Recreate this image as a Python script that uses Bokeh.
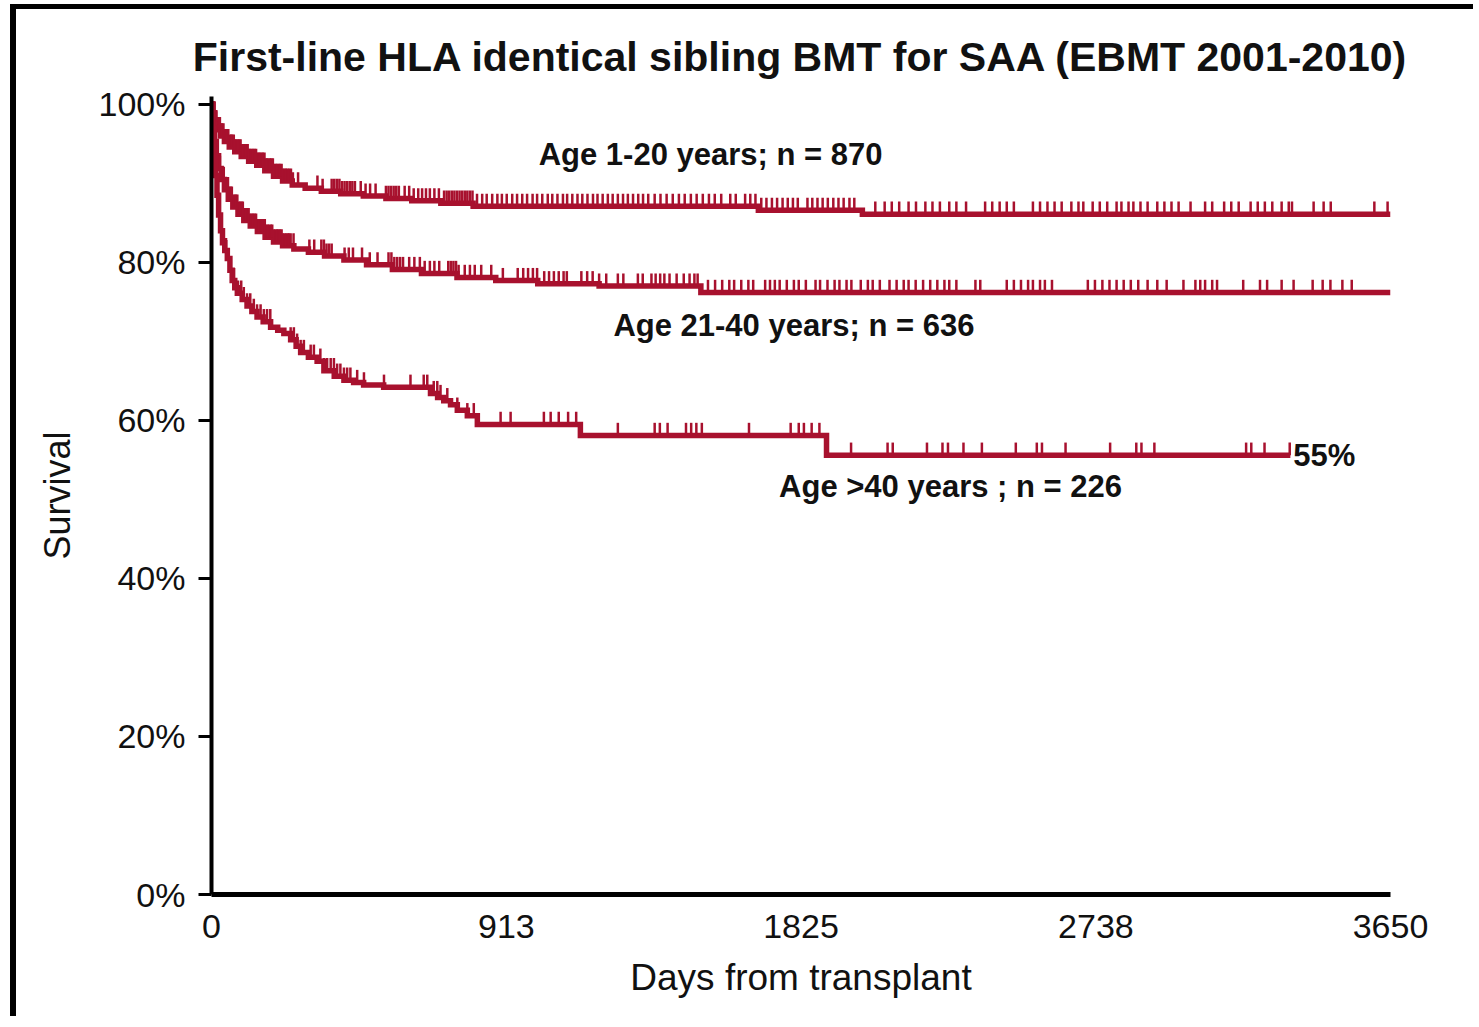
import numpy as np
from bokeh.plotting import figure
from bokeh.models import Range1d, FixedTicker, Label
from bokeh.embed import file_html
from bokeh.resources import INLINE

TITLE = "First-line HLA identical sibling BMT for SAA (EBMT 2001-2010)"
X_LABEL = "Days from transplant"
Y_LABEL = "Survival"
x_ticks = [0, 913, 1825, 2738, 3650]
x_tick_labels = ["0", "913", "1825", "2738", "3650"]
y_ticks = [0, 20, 40, 60, 80, 100]
y_tick_labels = ["0%", "20%", "40%", "60%", "80%", "100%"]

groups = ["Age 1-20 years; n = 870", "Age 21-40 years; n = 636", "Age >40 years ; n = 226"]
end_labels = ["86%", "76%", "55%"]

# Age 1-20: step times (days) and survival (%)
t1 = [0, 4, 10, 18, 28, 40, 55, 72, 92, 115, 140, 165, 192, 220, 250, 290, 340, 400,
      470, 540, 620, 710, 810, 1693, 2015]
s1 = [100, 98.8, 97.7, 96.8, 96.0, 95.3, 94.6, 94.0, 93.4, 92.8, 92.3, 91.6, 90.9, 90.3,
      89.8, 89.4, 89.0, 88.7, 88.4, 88.1, 87.8, 87.5, 87.1, 86.6, 86.1]
end1 = 3650
c1 = [6, 9, 12, 15, 18, 22, 26, 30, 33, 37, 41, 45, 48, 52, 57, 61, 64, 69, 73, 77, 81,
      86, 90, 94, 98, 103, 107, 112, 116, 120, 124, 129, 133, 138, 142, 146, 150, 155, 159,
      164, 168, 172, 176, 181, 185, 190, 194, 199, 203, 208, 212, 217, 221, 226, 230, 235,
      240, 246, 252, 268, 328, 344, 372, 380, 388, 396, 404, 412, 420, 428, 436, 444, 462,
      477, 491, 508, 540, 548, 556, 564, 572, 580, 598, 612, 626, 640, 652, 664, 676, 690,
      704, 720, 728, 736, 744, 752, 760, 768, 776, 784, 792, 800, 808, 822, 838, 852, 869,
      885, 899, 914, 931, 946, 962, 977, 994, 1008, 1024, 1041, 1055, 1071, 1088, 1101,
      1117, 1133, 1148, 1164, 1181, 1195, 1211, 1227, 1242, 1258, 1274, 1289, 1305, 1321,
      1336, 1352, 1372, 1390, 1409, 1428, 1447, 1465, 1484, 1502, 1521, 1540, 1558, 1578,
      1606, 1623, 1652, 1668, 1684, 1702, 1718, 1735, 1751, 1768, 1784, 1800, 1815, 1845,
      1860, 1876, 1892, 1908, 1925, 1941, 1957, 1975, 1990, 2055, 2084, 2106, 2129, 2158,
      2181, 2210, 2232, 2255, 2284, 2306, 2336, 2395, 2417, 2440, 2462, 2484, 2543, 2565,
      2588, 2610, 2632, 2662, 2684, 2699, 2728, 2750, 2773, 2802, 2817, 2839, 2854, 2876,
      2898, 2928, 2950, 2972, 2994, 3031, 3076, 3098, 3135, 3157, 3180, 3217, 3239, 3261,
      3284, 3313, 3335, 3345, 3412, 3443, 3465, 3600, 3641]

# Age 21-40
t2 = [0, 4, 9, 15, 22, 30, 40, 52, 66, 82, 100, 120, 142, 166, 192, 220, 255, 300, 350,
      410, 480, 560, 650, 760, 880, 1010, 1200, 1515]
s2 = [100, 97.5, 95.3, 93.5, 91.9, 90.5, 89.2, 88.0, 87.0, 86.1, 85.3, 84.6, 83.9, 83.2,
      82.6, 82.1, 81.7, 81.3, 80.8, 80.3, 79.7, 79.1, 78.6, 78.1, 77.7, 77.3, 77.0, 76.2]
end2 = 3650
c2 = [6, 10, 14, 18, 22, 26, 30, 34, 38, 42, 46, 51, 55, 59, 63, 68, 72, 76, 80, 85, 89,
      93, 97, 102, 106, 111, 115, 120, 124, 129, 133, 138, 142, 147, 151, 156, 160, 165,
      170, 174, 179, 184, 188, 193, 198, 203, 207, 212, 217, 221, 226, 231, 236, 240, 245,
      254, 303, 318, 340, 348, 356, 364, 372, 412, 425, 438, 466, 490, 514, 548, 557, 566,
      575, 584, 593, 612, 628, 645, 660, 676, 690, 705, 733, 741, 749, 757, 765, 784, 800,
      815, 835, 866, 902, 948, 965, 980, 995, 1008, 1030, 1045, 1060, 1075, 1090, 1100,
      1145, 1163, 1180, 1200, 1222, 1258, 1275, 1320, 1335, 1362, 1375, 1389, 1402, 1418,
      1440, 1462, 1480, 1495, 1505, 1537, 1559, 1581, 1603, 1618, 1640, 1662, 1677, 1714,
      1729, 1744, 1759, 1781, 1803, 1818, 1840, 1870, 1884, 1907, 1929, 1944, 1966, 1981,
      2010, 2032, 2047, 2069, 2099, 2121, 2143, 2158, 2180, 2203, 2225, 2247, 2269, 2284,
      2306, 2365, 2380, 2462, 2484, 2506, 2528, 2543, 2565, 2580, 2602, 2713, 2735, 2758,
      2780, 2802, 2824, 2846, 2869, 2898, 2928, 2957, 3009, 3046, 3061, 3076, 3098, 3113,
      3194, 3246, 3268, 3313, 3350, 3409, 3440, 3464, 3501, 3530]

# Age >40
t3 = [0, 3, 7, 12, 17, 22, 28, 34, 41, 49, 57, 64, 72, 80, 95, 110, 125, 141, 160, 183,
      205, 224, 245, 262, 276, 300, 327, 348, 380, 410, 440, 471, 533, 678, 700, 719, 740,
      761, 792, 823, 1142, 1904]
s3 = [100, 97, 94, 91, 88.5, 86, 84, 82.5, 81.5, 80.5, 79, 77.7, 76.8, 76.1, 75.3, 74.5,
      73.8, 73.1, 72.5, 71.8, 71.4, 71.0, 70.2, 69.4, 68.6, 68.0, 67.5, 66.3, 65.6, 65.1,
      64.8, 64.5, 64.2, 63.4, 62.9, 62.5, 62.0, 61.3, 60.6, 59.5, 58.1, 55.6]
end3 = 3340
c3 = [45, 58, 70, 82, 92, 100, 110, 120, 131, 141, 152, 162, 172, 182, 245, 255, 265, 276,
      286, 307, 317, 337, 348, 358, 369, 379, 389, 399, 410, 420, 430, 451, 472, 534, 616,
      657, 668, 688, 699, 709, 730, 761, 792, 812, 895, 926, 1029, 1050, 1075, 1104, 1129,
      1258, 1372, 1388, 1412, 1469, 1485, 1501, 1518, 1664, 1793, 1818, 1834, 1858, 1882,
      1980, 2093, 2109, 2215, 2263, 2280, 2328, 2385, 2490, 2555, 2571, 2644, 2782, 2863,
      2879, 2919, 3203, 3219, 3260, 3338]

RED = "#A8112E"
INK = "#111111"
FONT = "Liberation Sans"
TICK = 1.6

p = figure(width=1463, height=1012, output_backend="svg", toolbar_location=None,
           x_range=Range1d(0, 3650), y_range=Range1d(0, 101),
           min_border_left=195, min_border_right=89, min_border_top=87, min_border_bottom=127)
p.styles = {"border-top": "5px solid black", "border-left": "6px solid black",
            "margin-left": "10px", "margin-top": "4px"}
p.outline_line_color = None
p.grid.grid_line_color = None
p.background_fill_color = "white"
p.border_fill_color = "white"

p.title.text = TITLE
p.title.align = "center"
p.title.text_font = FONT
p.title.text_font_size = "41px"
p.title.text_font_style = "bold"
p.title.text_color = INK
p.title.standoff = 34

# axes
p.xaxis.ticker = FixedTicker(ticks=x_ticks)
p.xaxis.major_label_overrides = {v: l for v, l in zip(x_ticks, x_tick_labels)}
p.yaxis.ticker = FixedTicker(ticks=y_ticks)
p.yaxis.major_label_overrides = {v: l for v, l in zip(y_ticks, y_tick_labels)}
for ax in (p.xaxis, p.yaxis):
    ax.axis_line_color = "black"
    ax.major_label_text_font = FONT
    ax.major_label_text_font_size = "34px"
    ax.major_label_text_color = INK
    ax.minor_tick_line_color = None
    ax.axis_label_text_font = FONT
    ax.axis_label_text_font_style = "normal"
    ax.axis_label_text_color = INK
p.xaxis.axis_line_width = 5
p.yaxis.axis_line_width = 4
p.xaxis.major_tick_line_color = None
p.xaxis.major_tick_out = 0
p.xaxis.major_tick_in = 0
p.xaxis.major_label_standoff = 20
p.xaxis.axis_label = X_LABEL
p.xaxis.axis_label_text_font_size = "37px"
p.xaxis.axis_label_standoff = 16
p.yaxis.major_tick_line_color = "black"
p.yaxis.major_tick_line_width = 3
p.yaxis.major_tick_out = 13
p.yaxis.major_tick_in = 0
p.yaxis.major_label_standoff = 13
p.yaxis.axis_label = Y_LABEL
p.yaxis.axis_label_text_font_size = "36px"
p.yaxis.axis_label_standoff = 18


def surv_at(times, surv, c):
    idx = np.searchsorted(np.asarray(times), np.asarray(c), side="right") - 1
    return np.asarray(surv)[idx]


curves = [(t1, s1, end1, c1), (t2, s2, end2, c2), (t3, s3, end3, c3)]
for t, s, end, c in curves:
    xs = list(t) + [end]
    ys = list(s) + [s[-1]]
    p.step(xs, ys, mode="after", line_width=5.5, line_color=RED, line_join="miter")
    cy = surv_at(t, s, c)
    p.segment(x0=c, y0=cy, x1=c, y1=cy + TICK, line_width=2.5, line_color=RED)

# group labels
group_pos = [(1545, 93.6), (1803, 72.0), (2288, 51.6)]
for txt, (gx, gy) in zip(groups, group_pos):
    p.add_layout(Label(x=gx, y=gy, text=txt, text_align="center", text_baseline="middle",
                       text_font=FONT, text_font_size="31px", text_font_style="bold",
                       text_color=INK))

# end labels
for txt, (t, s, end, c), off in zip(end_labels, curves, [6, 6, 3]):
    p.add_layout(Label(x=end, y=s[-1], text=txt, x_offset=off, text_align="left",
                       text_baseline="middle", text_font=FONT, text_font_size="31px",
                       text_font_style="bold", text_color=INK))

open("out.html", "w").write(file_html(p, INLINE))
